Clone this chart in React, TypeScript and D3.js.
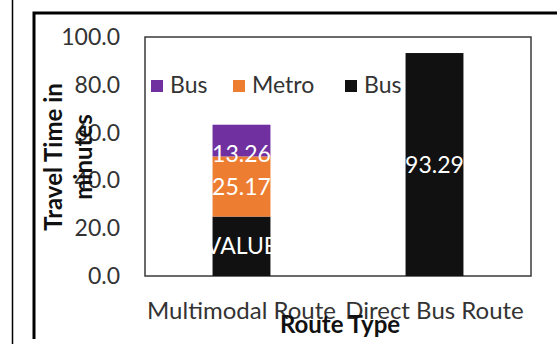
import React from "react";
import * as d3 from "d3";

const categories = ["Multimodal Route", "Direct Bus Route"];
const seriesNames = ["Bus", "Metro", "Bus"]; // legend order
const busFirstLeg = [24.87, 93.29];
const metroLeg = [25.17, 0];
const busSecondLeg = [13.26, 0];
const busFirstLabels = ["VALUE", "93.29"];
const metroLabels = ["25.17", ""];
const busSecondLabels = ["13.26", ""];
const yTicks = [0, 20, 40, 60, 80, 100];
const yTitleLines = ["Travel Time in", "minutes"];
const xTitle = "Route Type";

const W = 557;
const H = 344;
const FONT = "Lato, 'Open Sans', sans-serif";
const colors = ["#7030A0", "#ED7D31", "#111111"];

export default function App() {
  const plot = { left: 145, right: 531, top: 37, bottom: 276 };
  const y = d3.scaleLinear().domain([0, 100]).range([plot.bottom, plot.top]);
  const x = d3.scaleBand<string>().domain(categories).range([plot.left, plot.right]).padding(0);
  const barW = x.bandwidth() * 0.3;

  // stack order bottom->top: first bus leg (black), metro (orange), second bus leg (purple)
  const stackSeries = [
    { values: busFirstLeg, labels: busFirstLabels, color: colors[2], pos: "center" },
    { values: metroLeg, labels: metroLabels, color: colors[1], pos: "center" },
    { values: busSecondLeg, labels: busSecondLabels, color: colors[0], pos: "base" },
  ];

  const segments: any[] = [];
  categories.forEach((c, i) => {
    let base = 0;
    stackSeries.forEach((s, j) => {
      const v = s.values[i];
      if (v > 0) {
        segments.push({ c, i, j, y0: base, y1: base + v, color: s.color, label: s.labels[i], pos: s.pos });
      }
      base += v;
    });
  });

  const legendItems = [
    { name: seriesNames[0], color: colors[0], x: 151 },
    { name: seriesNames[1], color: colors[1], x: 233 },
    { name: seriesNames[2], color: colors[2], x: 345 },
  ];

  return (
    <svg width={W} height={H} style={{ position: "absolute", left: 0, top: 0, background: "#fff" }}>
      <rect x={0} y={0} width={W} height={H} fill="#fff" />
      {/* outer frames */}
      <line x1={12.5} x2={12.5} y1={0} y2={H} stroke="#000" strokeWidth={1.5} />
      <path d={`M34,339 L34,13 L${W},13`} fill="none" stroke="#000" strokeWidth={3} />
      {/* plot area */}
      <rect x={plot.left} y={plot.top} width={plot.right - plot.left} height={plot.bottom - plot.top} fill="#fff" stroke="#3a3a3a" strokeWidth={1.5} />
      {/* bars */}
      {segments.map((s, k) => (
        <rect key={k} x={x(s.c)! + x.bandwidth() / 2 - barW / 2} y={y(s.y1)} width={barW} height={y(s.y0) - y(s.y1)} fill={s.color} />
      ))}
      {segments.map((s, k) => {
        const cy = s.pos === "center" ? (y(s.y0) + y(s.y1)) / 2 : y(s.y0) - 2;
        return (
          <text key={k} x={x(s.c)! + x.bandwidth() / 2} y={cy} dy="0.35em" textAnchor="middle" fontFamily={FONT} fontSize={23} fill="#fff">
            {s.label}
          </text>
        );
      })}
      {/* y ticks */}
      {yTicks.map((t) => (
        <text key={t} x={120} y={y(t)} dy="0.35em" textAnchor="end" fontFamily={FONT} fontSize={23} fill="#333">
          {d3.format(".1f")(t)}
        </text>
      ))}
      {/* x ticks */}
      {categories.map((c) => (
        <text key={c} x={x(c)! + x.bandwidth() / 2} y={319} textAnchor="middle" fontFamily={FONT} fontSize={24} fill="#333">
          {c}
        </text>
      ))}
      {/* legend */}
      {legendItems.map((l, k) => (
        <g key={k}>
          <rect x={l.x} y={80} width={12} height={12} fill={l.color} />
          <text x={l.x + 19} y={93} fontFamily={FONT} fontSize={23} fill="#333">{l.name}</text>
        </g>
      ))}
      {/* axis titles */}
      {yTitleLines.map((t, k) => (
        <text key={k} transform={`translate(${62 + k * 30},157) rotate(-90)`} textAnchor="middle" fontFamily={FONT} fontWeight="bold" fontSize={24} fill="#111">
          {t}
        </text>
      ))}
      <text x={340} y={333} textAnchor="middle" fontFamily={FONT} fontWeight="bold" fontSize={24} fill="#111">{xTitle}</text>
    </svg>
  );
}
